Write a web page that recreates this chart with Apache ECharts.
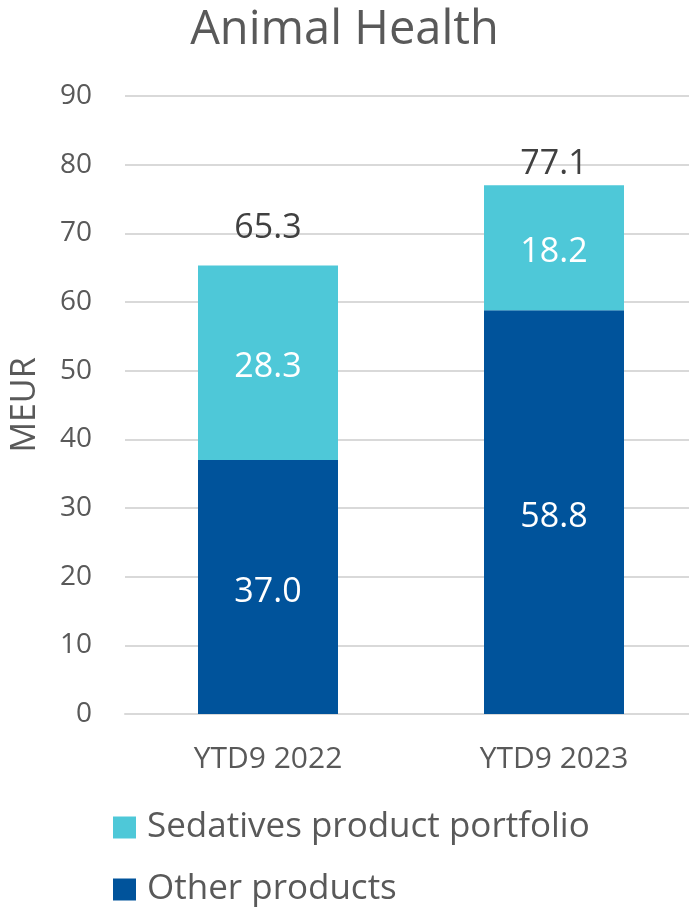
<!DOCTYPE html>
<html>
<head>
<meta charset="utf-8">
<style>
  html, body { margin: 0; padding: 0; background: #fff; }
  #chart { width: 689px; height: 915px; }
</style>
<script src="https://cdn.jsdelivr.net/npm/echarts@6/dist/echarts.min.js"></script>
</head>
<body>
<div id="chart"></div>
<script>
// 数据
const categories = ['YTD9 2022', 'YTD9 2023'];
const otherProducts = [37.0, 58.8];
const sedatives = [28.3, 18.2];
const totals = [65.3, 77.1];
const yTicks = [0, 10, 20, 30, 40, 50, 60, 70, 80, 90];

const font = '"Open Sans", "Noto Sans", sans-serif';
const chart = echarts.init(document.getElementById('chart'));

// Excel 把两个总数标签放得高低不同
const totalDistances = [20, 3];

const innerLabel = {
    show: true,
    position: 'inside',
    offset: [0, 5],
    fontFamily: font,
    fontSize: 34,
    color: '#ffffff',
    formatter: (p) => p.value.toFixed(1)
};

chart.setOption({
    animation: false,
    title: {
        text: 'Animal Health',
        left: 'center',
        top: 2,
        textStyle: { fontFamily: font, fontSize: 47, fontWeight: 'normal', color: '#595959' }
    },
    legend: {
        orient: 'vertical',
        left: 113,
        top: 810,
        height: 140,
        padding: 0,
        itemWidth: 23,
        itemHeight: 22,
        itemGap: 27,
        icon: 'rect',
        data: ['Sedatives product portfolio', 'Other products'],
        textStyle: { fontFamily: font, fontSize: 35, color: '#595959', padding: [0, 0, 0, 6] }
    },
    grid: { left: 125, top: 96, width: 572, bottom: 201, outerBoundsMode: 'none' },
    xAxis: {
        type: 'category',
        data: categories,
        axisLine: { lineStyle: { color: '#d9d9d9', width: 2 } },
        axisTick: { show: false },
        axisLabel: { fontFamily: font, fontSize: 30, color: '#595959', margin: 30 }
    },
    yAxis: {
        type: 'value',
        min: yTicks[0],
        max: yTicks[yTicks.length - 1],
        interval: 10,
        name: 'MEUR',
        nameLocation: 'middle',
        nameGap: 83,
        nameTextStyle: { fontFamily: font, fontSize: 34, color: '#595959' },
        axisLine: { show: false },
        axisTick: { show: false },
        splitLine: { lineStyle: { color: '#d9d9d9', width: 2 } },
        axisLabel: { fontFamily: font, fontSize: 28, color: '#595959', margin: 33 }
    },
    series: [
        {
            name: 'Other products',
            type: 'bar',
            stack: 'total',
            barWidth: 140,
            data: otherProducts,
            itemStyle: { color: '#00539b' },
            label: innerLabel
        },
        {
            name: 'Sedatives product portfolio',
            type: 'bar',
            stack: 'total',
            barWidth: 140,
            data: sedatives,
            itemStyle: { color: '#4ec8d8' },
            label: innerLabel
        },
        {
            name: 'Total',
            type: 'line',
            data: totals.map((v, i) => ({
                value: v,
                label: { distance: totalDistances[i] }
            })),
            symbol: 'circle',
            symbolSize: 1,
            itemStyle: { color: 'rgba(0,0,0,0)' },
            lineStyle: { width: 0, color: 'rgba(0,0,0,0)' },
            silent: true,
            label: {
                show: true,
                position: 'top',
                fontFamily: font,
                fontSize: 34,
                color: '#404040',
                formatter: (p) => p.value.toFixed(1)
            }
        }
    ]
});
</script>
</body>
</html>
